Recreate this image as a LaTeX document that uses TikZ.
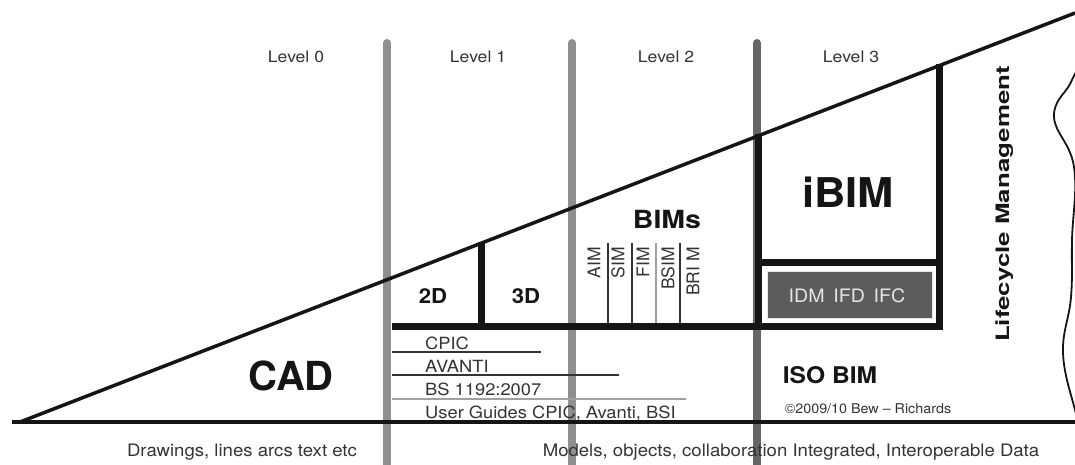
\documentclass[tikz,border=0pt]{standalone}
\usepackage{fontspec}
\setmainfont{TeX Gyre Heros}
\usepackage{graphicx}
\newcommand{\hs}[2][1.08]{\scalebox{#1}[1]{#2}}
\definecolor{txtgray}{HTML}{333333}
\definecolor{lvlgray}{HTML}{8F8F8F}
\definecolor{lvldark}{HTML}{666666}
\definecolor{ink}{HTML}{151515}
\definecolor{boxfill}{HTML}{5C5C5C}
\definecolor{boxtext}{HTML}{E6E6E6}
\definecolor{thingray}{HTML}{A0A0A0}
\begin{document}
\begin{tikzpicture}[x=1pt,y=-1pt,
  lvl/.style={font=\fontsize{16}{19}\selectfont, text=txtgray, inner sep=0, anchor=base},
  bigbold/.style={text=ink, inner sep=0, anchor=base},
  listtxt/.style={font=\fontsize{16.8}{19}\selectfont, text=txtgray, inner sep=0, anchor=base west},
  rotlabel/.style={rotate=90, anchor=east, inner sep=0, font=\fontsize{17.5}{20}\selectfont, text=txtgray},
  bottomtxt/.style={font=\fontsize{17.2}{20}\selectfont, text=txtgray, inner sep=0, anchor=base},
  graybar/.style={line width=8pt, line cap=round, draw=lvlgray},
  thick frame/.style={line width=7pt, draw=ink, line join=miter},
  thinline/.style={line width=1.5pt, draw=txtgray},
  mainline/.style={line width=3.2pt, draw=ink},
]
\useasboundingbox (0,0) rectangle (1075,465);
\begin{scope}
\clip (0,0) rectangle (1075,465);

% ---------- level bars ----------
\draw[graybar] (387,43) -- (387,480);
\draw[graybar] (572,43) -- (572,480);
\draw[graybar, draw=lvldark] (757,43) -- (757,480);

% ---------- texts ----------
\node[lvl] (l0) at (296,63) {\hs[1.1]{Level 0}};
\node[lvl] (l1) at (478,63) {\hs[1.1]{Level 1}};
\node[lvl] (l2) at (666,63) {\hs[1.1]{Level 2}};
\node[lvl] (l3) at (851,63) {\hs[1.1]{Level 3}};

\node[bigbold, font=\fontsize{40}{44}\selectfont\bfseries] (cad) at (291,390) {CAD};
\node[bigbold, font=\fontsize{20.5}{24}\selectfont\bfseries] (d2) at (433,303) {\hs{2D}};
\node[bigbold, font=\fontsize{20.5}{24}\selectfont\bfseries] (d3) at (526,303) {\hs{3D}};
\node[bigbold, font=\fontsize{25}{28}\selectfont\bfseries] (bims) at (667,228) {\hs[1.14]{BIMs}};
\node[bigbold, font=\fontsize{41}{44}\selectfont\bfseries] (ibim) at (848,207) {\hs[1.06]{iBIM}};
\node[bigbold, font=\fontsize{23}{26}\selectfont\bfseries] (iso) at (830,383) {\hs[1.07]{ISO BIM}};
\node[lvl, font=\fontsize{13.5}{16}\selectfont] (copy) at (868,413) {\hs[1.06]{©2009/10 Bew – Richards}};

\node[rotlabel] (aim)  at (594,247) {AIM};
\node[rotlabel] (sim)  at (618,247) {SIM};
\node[rotlabel] (fim)  at (643,247) {FIM};
\node[rotlabel] (bsim) at (668,247) {BSIM};
\node[rotlabel] (brim) at (693,247) {BRI M};

\node[listtxt] (cpic)   at (425,349) {\hs[1.09]{CPIC}};
\node[listtxt] (avanti) at (425,372) {\hs[1.09]{AVANTI}};
\node[listtxt] (bs)     at (425,395) {\hs[1.09]{BS 1192:2007}};
\node[listtxt] (ug)     at (425,418) {\hs[1.09]{User Guides CPIC, Avanti, BSI}};

\node[bottomtxt] (draw) at (242,456) {\hs{Drawings, lines arcs text etc}};
\node[bottomtxt] (models) at (791,456) {\hs{Models, objects, collaboration Integrated, Interoperable Data}};

\node[rotate=90, inner sep=0, text=ink, font=\fontsize{18.5}{21}\selectfont\bfseries] (life) at (1005,204)
  {\scalebox{1.4}[1]{Lifecycle Management}};

% ---------- list lines ----------
\draw[thinline] (392,352) -- (541,352);
\draw[thinline] (392,375) -- (619,375);
\draw[thinline, draw=thingray] (392,399) -- (686,399);

% ---------- BIM sub-dividers ----------
\draw[thinline] (608,243) -- (608,326);
\draw[thinline] (632,243) -- (632,326);
\draw[thinline, draw=thingray] (656,243) -- (656,326);
\draw[thinline] (680,243) -- (680,326);

% ---------- IDM box ----------
\node[draw=boxtext, line width=1pt, fill=boxfill, minimum width=165pt, minimum height=47pt, inner sep=0,
      anchor=north west] (idmbox) at (767,271) {};
\node[text=boxtext, font=\fontsize{18.5}{21}\selectfont, inner sep=0, anchor=base] (idm) at (847,302)
  {\hs[1.06]{IDM\ \,IFD\ \,IFC}};

% ---------- main triangle ----------
\draw[mainline] (12,422) -- (1080,422);
\draw[mainline, line width=3.5pt] (20,422) -- (1075,13);

% ---------- thick frame ----------
\draw[thick frame] (392,326) -- (939,326) -- (939,64);
\draw[thick frame] (481,326) -- (481,242);
\draw[thick frame] (758,326) -- (758,134);
\draw[thick frame] (758,262) -- (939,262);

% ---------- wavy edge ----------
\draw[line width=1.8pt, draw=ink] plot[smooth, tension=0.7] coordinates
  {(1078,68) (1070,84) (1054,117) (1074,167) (1072,240) (1071,297) (1063,353) (1075,410) (1078,418)};
\end{scope}
\end{tikzpicture}
\end{document}
